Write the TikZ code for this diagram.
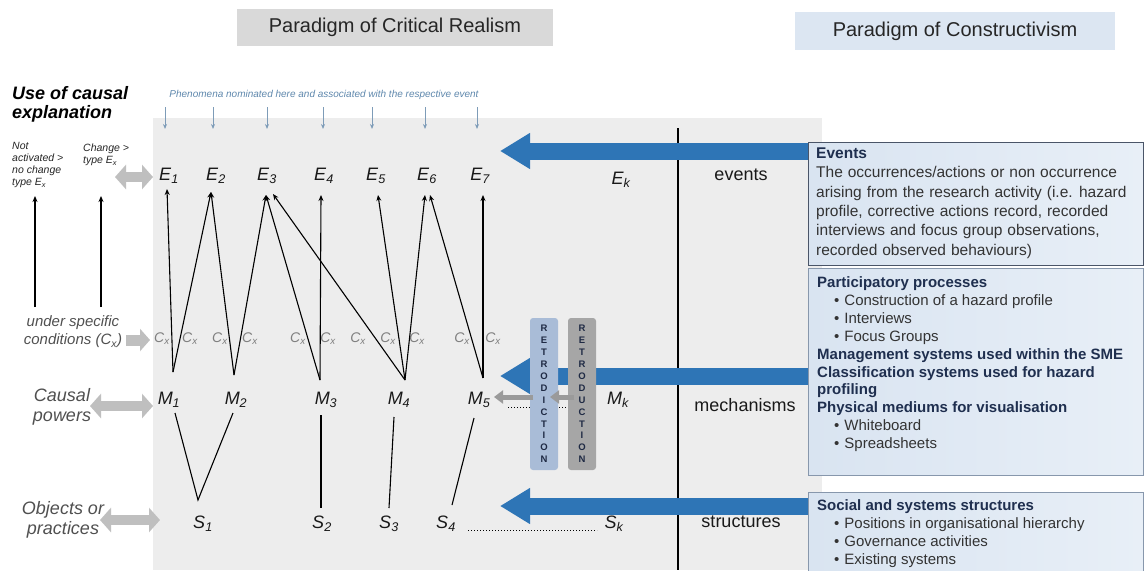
\documentclass[tikz,border=0pt]{standalone}
\usepackage{fontspec}
\setmainfont{Liberation Sans}
\usetikzlibrary{arrows.meta}
\definecolor{panelgray}{HTML}{EDEDED}
\definecolor{titlegray}{HTML}{D9D9D9}
\definecolor{titleblue}{HTML}{DCE6F2}
\definecolor{bigblue}{HTML}{2E75B6}
\definecolor{arrgray}{HTML}{BFBFBF}
\definecolor{darkarr}{HTML}{9A9A9A}
\definecolor{pharrow}{HTML}{7E9CB8}
\definecolor{phtext}{HTML}{5F88AD}
\definecolor{boxfillL}{HTML}{D9E4F1}
\definecolor{boxfillR}{HTML}{E8EFF7}
\definecolor{boxdraw}{HTML}{4A5568}
\definecolor{boxdrawB}{HTML}{8797AC}
\definecolor{retroblue}{HTML}{A9BCD7}
\definecolor{retrogray}{HTML}{A6A6A6}
\definecolor{retrotext}{HTML}{1F2A44}
\definecolor{labgray}{HTML}{505050}
\definecolor{cxgray}{HTML}{7F7F7F}
\definecolor{rtextc}{HTML}{333333}
\definecolor{rhead}{HTML}{1F2F4F}
\newcommand{\ix}[2]{#1\textsubscript{#2}}
\newcommand{\widesp}{\spaceskip=0.32em plus 0.1em\relax}
\begin{document}
\begin{tikzpicture}[x=1pt,y=-1pt,
  lbl/.style={inner sep=0pt,font=\fontsize{18}{20}\selectfont\itshape,text=black!90},
  cxl/.style={inner sep=0pt,font=\fontsize{14}{16}\selectfont\itshape,text=cxgray},
  lev/.style={inner sep=0pt,font=\fontsize{18}{20}\selectfont,text=black!90},
  side/.style={inner sep=0pt,align=center,font=\fontsize{18}{20}\selectfont\itshape,text=labgray},
  tiny/.style={inner sep=0pt,align=left,anchor=north west,font=\fontsize{10.5}{12}\selectfont\itshape,text=black!85},
  blk/.style={line width=1.1pt,-{Stealth[length=6pt,width=5pt]}},
  bare/.style={line width=1.1pt},
  phar/.style={line width=0.9pt,draw=pharrow,-{Stealth[length=5pt,width=4pt]}},
  bigarr/.style={line width=17pt,draw=bigblue,-{Triangle[length=30pt,width=34pt]}},
  garr/.style={line width=11pt,draw=arrgray,-{Triangle[length=10pt,width=22pt]}},
  gdbl/.style={line width=10pt,draw=arrgray,{Triangle[length=11pt,width=24pt]}-{Triangle[length=11pt,width=24pt]}},
  smallg/.style={line width=5pt,draw=darkarr,-{Triangle[length=9pt,width=13pt]}},
  titlebox/.style={inner sep=0pt,font=\fontsize{20}{24}\selectfont,text=black!85},
  retro/.style={inner sep=0pt,align=center,minimum width=28,minimum height=152,rounded corners=3pt,font=\fontsize{9.5}{11.9}\selectfont\bfseries,text=retrotext},
  rbox/.style={anchor=north west,inner sep=0pt,line width=1pt,left color=boxfillL,right color=boxfillR},
  rtext/.style={anchor=north west,inner sep=0pt,align=left,text=rtextc},
]
\useasboundingbox (0,0) rectangle (1145,570);
\fill[white] (0,0) rectangle (1145,570);

% panel
\fill[panelgray] (153,118) rectangle (822,570);

% titles
\node[titlebox,fill=titlegray,minimum width=316,minimum height=37] (crt) at (395,27) {Paradigm of Critical Realism};
\node[titlebox,fill=titleblue,minimum width=320,minimum height=38] (cot) at (955,31) {Paradigm of Constructivism};

% top left
\node[inner sep=0pt,align=left,anchor=north west,font=\fontsize{18}{19}\selectfont\bfseries\itshape] (use) at (12,86) {Use of causal\\explanation};
\node[tiny] (nact) at (12,142) {Not\\activated >\\no change\\type \ix{E}{x}};
\node[tiny] (chg) at (83,144) {Change >\\type \ix{E}{x}};

% phenomena
\node[inner sep=0pt,font=\fontsize{10}{11}\selectfont\itshape,text=phtext] (phen) at (324,95) {Phenomena nominated here and associated with the respective event};
\foreach \i/\x in {1/165,2/213,3/267,4/323,5/372,6/425,7/477}{
  \coordinate (pa\i) at (\x,107); \coordinate (pb\i) at (\x,129);
  \draw[phar] (pa\i) -- (pb\i);
}

% vertical divider
\coordinate (vt) at (678,128); \coordinate (vb) at (678,570);
\draw[line width=1.2pt] (vt) -- (vb);

% E row
\node[lbl] (E1) at (169,176) {\ix{E}{1}};
\node[lbl] (E2) at (216,176) {\ix{E}{2}};
\node[lbl] (E3) at (267,176) {\ix{E}{3}};
\node[lbl] (E4) at (324,176) {\ix{E}{4}};
\node[lbl] (E5) at (376,176) {\ix{E}{5}};
\node[lbl] (E6) at (427,176) {\ix{E}{6}};
\node[lbl] (E7) at (480,176) {\ix{E}{7}};
\node[lbl] (Ek) at (621,180) {\ix{E}{k}};
\node[lev] (evl) at (741,175) {events};

% Cx row
\foreach \i/\x in {1/162,2/190,3/220,4/250,5/298,6/328,7/358,8/388,9/417,10/462,11/493}{
  \node[cxl] (cx\i) at (\x,339) {\ix{C}{x}};
}

% M row
\node[lbl] (M1) at (169,400) {\ix{M}{1}};
\node[lbl] (M2) at (236,400) {\ix{M}{2}};
\node[lbl] (M3) at (326,400) {\ix{M}{3}};
\node[lbl] (M4) at (399,400) {\ix{M}{4}};
\node[lbl] (M5) at (479,400) {\ix{M}{5}};
\node[lbl] (Mk) at (618,400) {\ix{M}{k}};
\node[lev] (mel) at (745,405) {mechanisms};

% S row
\node[lbl] (S1) at (203,524) {\ix{S}{1}};
\node[lbl] (S2) at (322,524) {\ix{S}{2}};
\node[lbl] (S3) at (389,524) {\ix{S}{3}};
\node[lbl] (S4) at (446,524) {\ix{S}{4}};
\node[lbl] (Sk) at (614,524) {\ix{S}{k}};
\node[lev] (stl) at (741,522) {structures};

% dotted lines
\coordinate (ds0) at (468,530); \coordinate (ds1) at (597,530);
\draw[line width=1pt,dotted] (ds0) -- (ds1);
\coordinate (dm0) at (508,407); \coordinate (dm1) at (597,407);
\draw[line width=1pt,dotted] (dm0) -- (dm1);

% connector points
\coordinate (t1) at (167,189); \coordinate (t2) at (211,192);
\coordinate (t3a) at (266,195); \coordinate (t3b) at (273,194);
\coordinate (t4) at (321,195); \coordinate (t5) at (378,195);
\coordinate (t6a) at (425,195); \coordinate (t6b) at (430,195);
\coordinate (t7) at (483,195);
\coordinate (a1) at (173,372); \coordinate (a2) at (234,375);
\coordinate (a3) at (320,380); \coordinate (a4) at (405,380);
\coordinate (a5) at (483,378);
\coordinate (b1) at (175,413); \coordinate (b2) at (233,413);
\coordinate (b3) at (321,415); \coordinate (b4) at (394,417);
\coordinate (b5) at (474,418);
\coordinate (s1) at (198,500); \coordinate (s2) at (321,508);
\coordinate (s3) at (389,508); \coordinate (s4) at (452,505);

\draw[blk] (a1) -- (t1);
\draw[blk] (a1) -- (t2);
\draw[blk] (a2) -- (t2);
\draw[blk] (a2) -- (t3a);
\draw[blk] (a3) -- (t3a);
\draw[blk] (a3) -- (t4);
\draw[blk] (a4) -- (t3b);
\draw[blk] (a4) -- (t5);
\draw[blk] (a4) -- (t6a);
\draw[blk] (a5) -- (t6b);
\draw[blk] (a5) -- (t7);

\draw[bare] (b1) -- (s1) -- (b2);
\draw[bare] (b3) -- (s2);
\draw[bare] (b4) -- (s3);
\draw[bare] (b5) -- (s4);

% left side
\coordinate (l1a) at (35,307); \coordinate (l1b) at (35,196);
\coordinate (l2a) at (101,307); \coordinate (l2b) at (101,196);
\draw[blk] (l1a) -- (l1b);
\draw[blk] (l2a) -- (l2b);

\node[side,font=\fontsize{15}{18}\selectfont\itshape] (cond) at (73,332) {under specific\\conditions (\ix{C}{x})};
\node[side] (caus) at (62,407) {Causal\\powers};
\node[side] (obj) at (63,520) {Objects or\\practices};

\coordinate (ge0) at (115,177); \coordinate (ge1) at (153,177);
\draw[gdbl] (ge0) -- (ge1);
\coordinate (gc0) at (126,340); \coordinate (gc1) at (150,340);
\draw[garr] (gc0) -- (gc1);
\coordinate (gm0) at (90,406); \coordinate (gm1) at (153,406);
\draw[gdbl] (gm0) -- (gm1);
\coordinate (go0) at (100,520); \coordinate (go1) at (160,520);
\draw[gdbl] (go0) -- (go1);

% big blue arrows
\coordinate (be0) at (812,151); \coordinate (be1) at (500,151);
\draw[bigarr] (be0) -- (be1);
\coordinate (bm0) at (812,376); \coordinate (bm1) at (500,376);
\draw[bigarr] (bm0) -- (bm1);
\coordinate (bs0) at (812,506); \coordinate (bs1) at (500,506);
\draw[bigarr] (bs0) -- (bs1);

% retroduction boxes
\node[retro,fill=retroblue] (rdi) at (544,394) {R\\E\\T\\R\\O\\D\\I\\C\\T\\I\\O\\N};
\node[retro,fill=retrogray] (rdu) at (582,394) {R\\E\\T\\R\\O\\D\\U\\C\\T\\I\\O\\N};
\coordinate (g1a) at (533,397); \coordinate (g1b) at (494,397);
\draw[smallg] (g1a) -- (g1b);
\coordinate (g2a) at (574,397); \coordinate (g2b) at (550,397);
\draw[smallg] (g2a) -- (g2b);

% right boxes
\node[rbox,draw=boxdraw,minimum width=335,minimum height=123] (evbox) at (808,142) {};
\node[rbox,draw=boxdrawB,minimum width=335,minimum height=207] (mebox) at (808,268) {};
\node[rbox,draw=boxdrawB,minimum width=335,minimum height=90] (stbox) at (808,492) {};

\node[rtext,font=\fontsize{15.5}{19.4}\selectfont\widesp] (evtx) at (816,147.5)
 {\textcolor{rhead}{\bfseries Events}\\
  The occurrences/actions or non occurrence\\
  arising from the research activity (i.e. hazard\\
  profile, corrective actions record, recorded\\
  interviews and focus group observations,\\
  recorded observed behaviours)};

\node[rtext,font=\fontsize{15}{17.9}\selectfont] (metx) at (817,276.5)
 {\textcolor{rhead}{\bfseries Participatory processes}\\
  \hspace*{17pt}\textbullet\hspace{5pt}Construction of a hazard profile\\
  \hspace*{17pt}\textbullet\hspace{5pt}Interviews\\
  \hspace*{17pt}\textbullet\hspace{5pt}Focus Groups\\
  \textcolor{rhead}{\bfseries Management systems used within the SME}\\
  \textcolor{rhead}{\bfseries Classification systems used for hazard}\\
  \textcolor{rhead}{\bfseries profiling}\\
  \textcolor{rhead}{\bfseries Physical mediums for visualisation}\\
  \hspace*{17pt}\textbullet\hspace{5pt}Whiteboard\\
  \hspace*{17pt}\textbullet\hspace{5pt}Spreadsheets};

\node[rtext,font=\fontsize{15}{18}\selectfont] (sttx) at (817,499.5)
 {\textcolor{rhead}{\bfseries Social and systems structures}\\
  \hspace*{17pt}\textbullet\hspace{5pt}Positions in organisational hierarchy\\
  \hspace*{17pt}\textbullet\hspace{5pt}Governance activities\\
  \hspace*{17pt}\textbullet\hspace{5pt}Existing systems};
\end{tikzpicture}
\end{document}
